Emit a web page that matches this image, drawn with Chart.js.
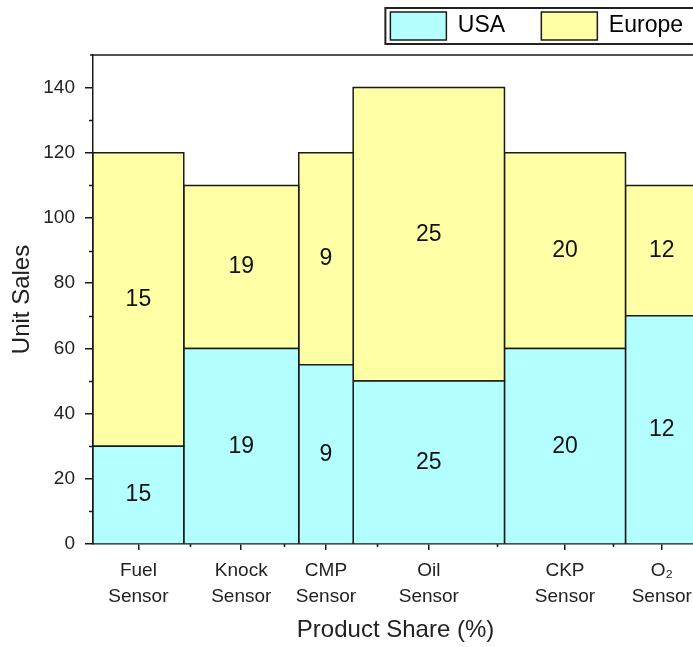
<!DOCTYPE html>
<html>
<head>
<meta charset="utf-8">
<script src="https://cdn.jsdelivr.net/npm/chart.js@4.4.1/dist/chart.umd.min.js"></script>
<style>
  body { margin: 0; overflow: hidden; background: #fff; }
  canvas { display: block; }
</style>
</head>
<body>
<canvas id="myChart" width="700" height="647"></canvas>
<script>
// chart data
const products = [['Fuel', 'Sensor'], ['Knock', 'Sensor'], ['CMP', 'Sensor'], ['Oil', 'Sensor'], ['CKP', 'Sensor'], ['O₂', 'Sensor']];
const shares = [15, 19, 9, 25, 20, 12];
const usaSales = [30, 60, 55, 50, 60, 70];
const europeSales = [90, 50, 65, 90, 60, 40];
const yTicks = [0, 20, 40, 60, 80, 100, 120, 140];
const yMinorTicks = [10, 30, 50, 70, 90, 110, 130];

const usaColor = '#b3ffff';
const europeColor = '#ffffa6';
const lineColor = '#1a1a1a';
const fontName = "'Liberation Sans', Arial, sans-serif";

// left edge of each column (columns are as wide as the product share)
let starts = [];
let sum = 0;
for (let i = 0; i < shares.length; i++) {
  starts.push(sum);
  sum += shares[i];
}
let centers = starts.map((s, i) => s + shares[i] / 2);
let minorX = [];
for (let i = 1; i < centers.length; i++) {
  minorX.push((centers[i - 1] + centers[i]) / 2);
}

function box(x0, x1, y0, y1) {
  return [{x: x0, y: y0}, {x: x0, y: y1}, {x: x1, y: y1}, {x: x1, y: y0}, {x: x0, y: y0}];
}

let datasets = [];
for (let i = 0; i < shares.length; i++) {
  let x0 = starts[i];
  let x1 = starts[i] + shares[i];
  datasets.push({ label: 'USA', data: box(x0, x1, 0, usaSales[i]), backgroundColor: usaColor });
  datasets.push({ label: 'Europe', data: box(x0, x1, usaSales[i], usaSales[i] + europeSales[i]), backgroundColor: europeColor });
}
datasets.forEach(d => {
  d.borderColor = lineColor;
  d.borderWidth = 1.5;
  d.fill = 'shape';
  d.pointRadius = 0;
  d.tension = 0;
});

// minor ticks, top frame line, column labels and legend frame
const extras = {
  id: 'extras',
  afterDatasetsDraw(chart) {
    const ctx = chart.ctx;
    const x = chart.scales.x;
    const y = chart.scales.y;
    const area = chart.chartArea;
    ctx.save();
    ctx.font = '23px ' + fontName;
    ctx.fillStyle = '#111';
    ctx.textAlign = 'center';
    ctx.textBaseline = 'middle';
    for (let i = 0; i < shares.length; i++) {
      let cx = x.getPixelForValue(centers[i]);
      ctx.fillText(shares[i], cx, y.getPixelForValue(usaSales[i] / 2));
      ctx.fillText(shares[i], cx, y.getPixelForValue(usaSales[i] + europeSales[i] / 2));
    }
    ctx.strokeStyle = lineColor;
    ctx.lineWidth = 1.5;
    ctx.beginPath();
    yMinorTicks.forEach(v => {
      let py = Math.round(y.getPixelForValue(v)) + 0.5;
      ctx.moveTo(area.left - 4, py);
      ctx.lineTo(area.left, py);
    });
    minorX.forEach(v => {
      let px = Math.round(x.getPixelForValue(v)) + 0.5;
      ctx.moveTo(px, area.bottom);
      ctx.lineTo(px, area.bottom + 3);
    });
    ctx.moveTo(area.left - 3, area.top);
    ctx.lineTo(chart.width, area.top);
    ctx.stroke();
    ctx.restore();
  },
  afterDraw(chart) {
    const boxes = chart.legend.legendHitBoxes;
    if (!boxes || !boxes.length) return;
    const ctx = chart.ctx;
    ctx.save();
    ctx.strokeStyle = '#222';
    ctx.lineWidth = 2;
    ctx.strokeRect(boxes[0].left - 5, boxes[0].top - 4, chart.width, boxes[0].height + 8);
    ctx.restore();
  }
};

new Chart('myChart', {
  type: 'line',
  data: { datasets: datasets },
  plugins: [extras],
  options: {
    responsive: false,
    animation: false,
    layout: { padding: { left: 0, right: 0, top: -5, bottom: 0 } },
    plugins: {
      tooltip: { enabled: false },
      legend: {
        position: 'top',
        align: 'end',
        labels: {
          font: { size: 23, family: fontName },
          color: '#111',
          boxWidth: 56,
          boxHeight: 28,
          padding: 17,
          generateLabels: () => [
            { text: 'USA   ', fillStyle: usaColor, strokeStyle: lineColor, lineWidth: 1.5, datasetIndex: 0 },
            { text: 'Europe', fillStyle: europeColor, strokeStyle: lineColor, lineWidth: 1.5, datasetIndex: 1 }
          ]
        }
      }
    },
    scales: {
      x: {
        type: 'linear',
        min: 0,
        max: 100,
        afterBuildTicks: scale => { scale.ticks = centers.map(v => ({ value: v })); },
        afterFit: scale => { scale.height = 103; },
        border: { color: lineColor, width: 1.5 },
        grid: { drawOnChartArea: false, color: lineColor, lineWidth: 1.5, tickLength: 6 },
        ticks: {
          autoSkip: false,
          maxRotation: 0,
          padding: 8,
          color: '#222',
          font: { size: 19, family: fontName, lineHeight: 1.37 },
          callback: (value, index) => products[index]
        },
        title: {
          display: true,
          text: 'Product Share (%)',
          color: '#222',
          font: { size: 24, family: fontName },
          padding: { top: 0, bottom: 2 }
        }
      },
      // empty top axis, only keeps a small gap under the legend
      x2: {
        type: 'linear',
        position: 'top',
        min: 0,
        max: 100,
        afterFit: scale => { scale.height = 5; },
        border: { display: false },
        grid: { display: false },
        ticks: { display: false }
      },
      y: {
        min: 0,
        max: 150,
        afterBuildTicks: scale => { scale.ticks = yTicks.map(v => ({ value: v })); },
        afterFit: scale => { scale.width = 93; },
        border: { color: lineColor, width: 1.5 },
        grid: { drawOnChartArea: false, color: lineColor, lineWidth: 1.5, tickLength: 8 },
        ticks: {
          padding: 10,
          color: '#222',
          font: { size: 19, family: fontName }
        },
        title: {
          display: true,
          text: 'Unit Sales',
          color: '#222',
          font: { size: 24, family: fontName },
          padding: { top: 8, bottom: 0 }
        }
      }
    }
  }
});
</script>
</body>
</html>
